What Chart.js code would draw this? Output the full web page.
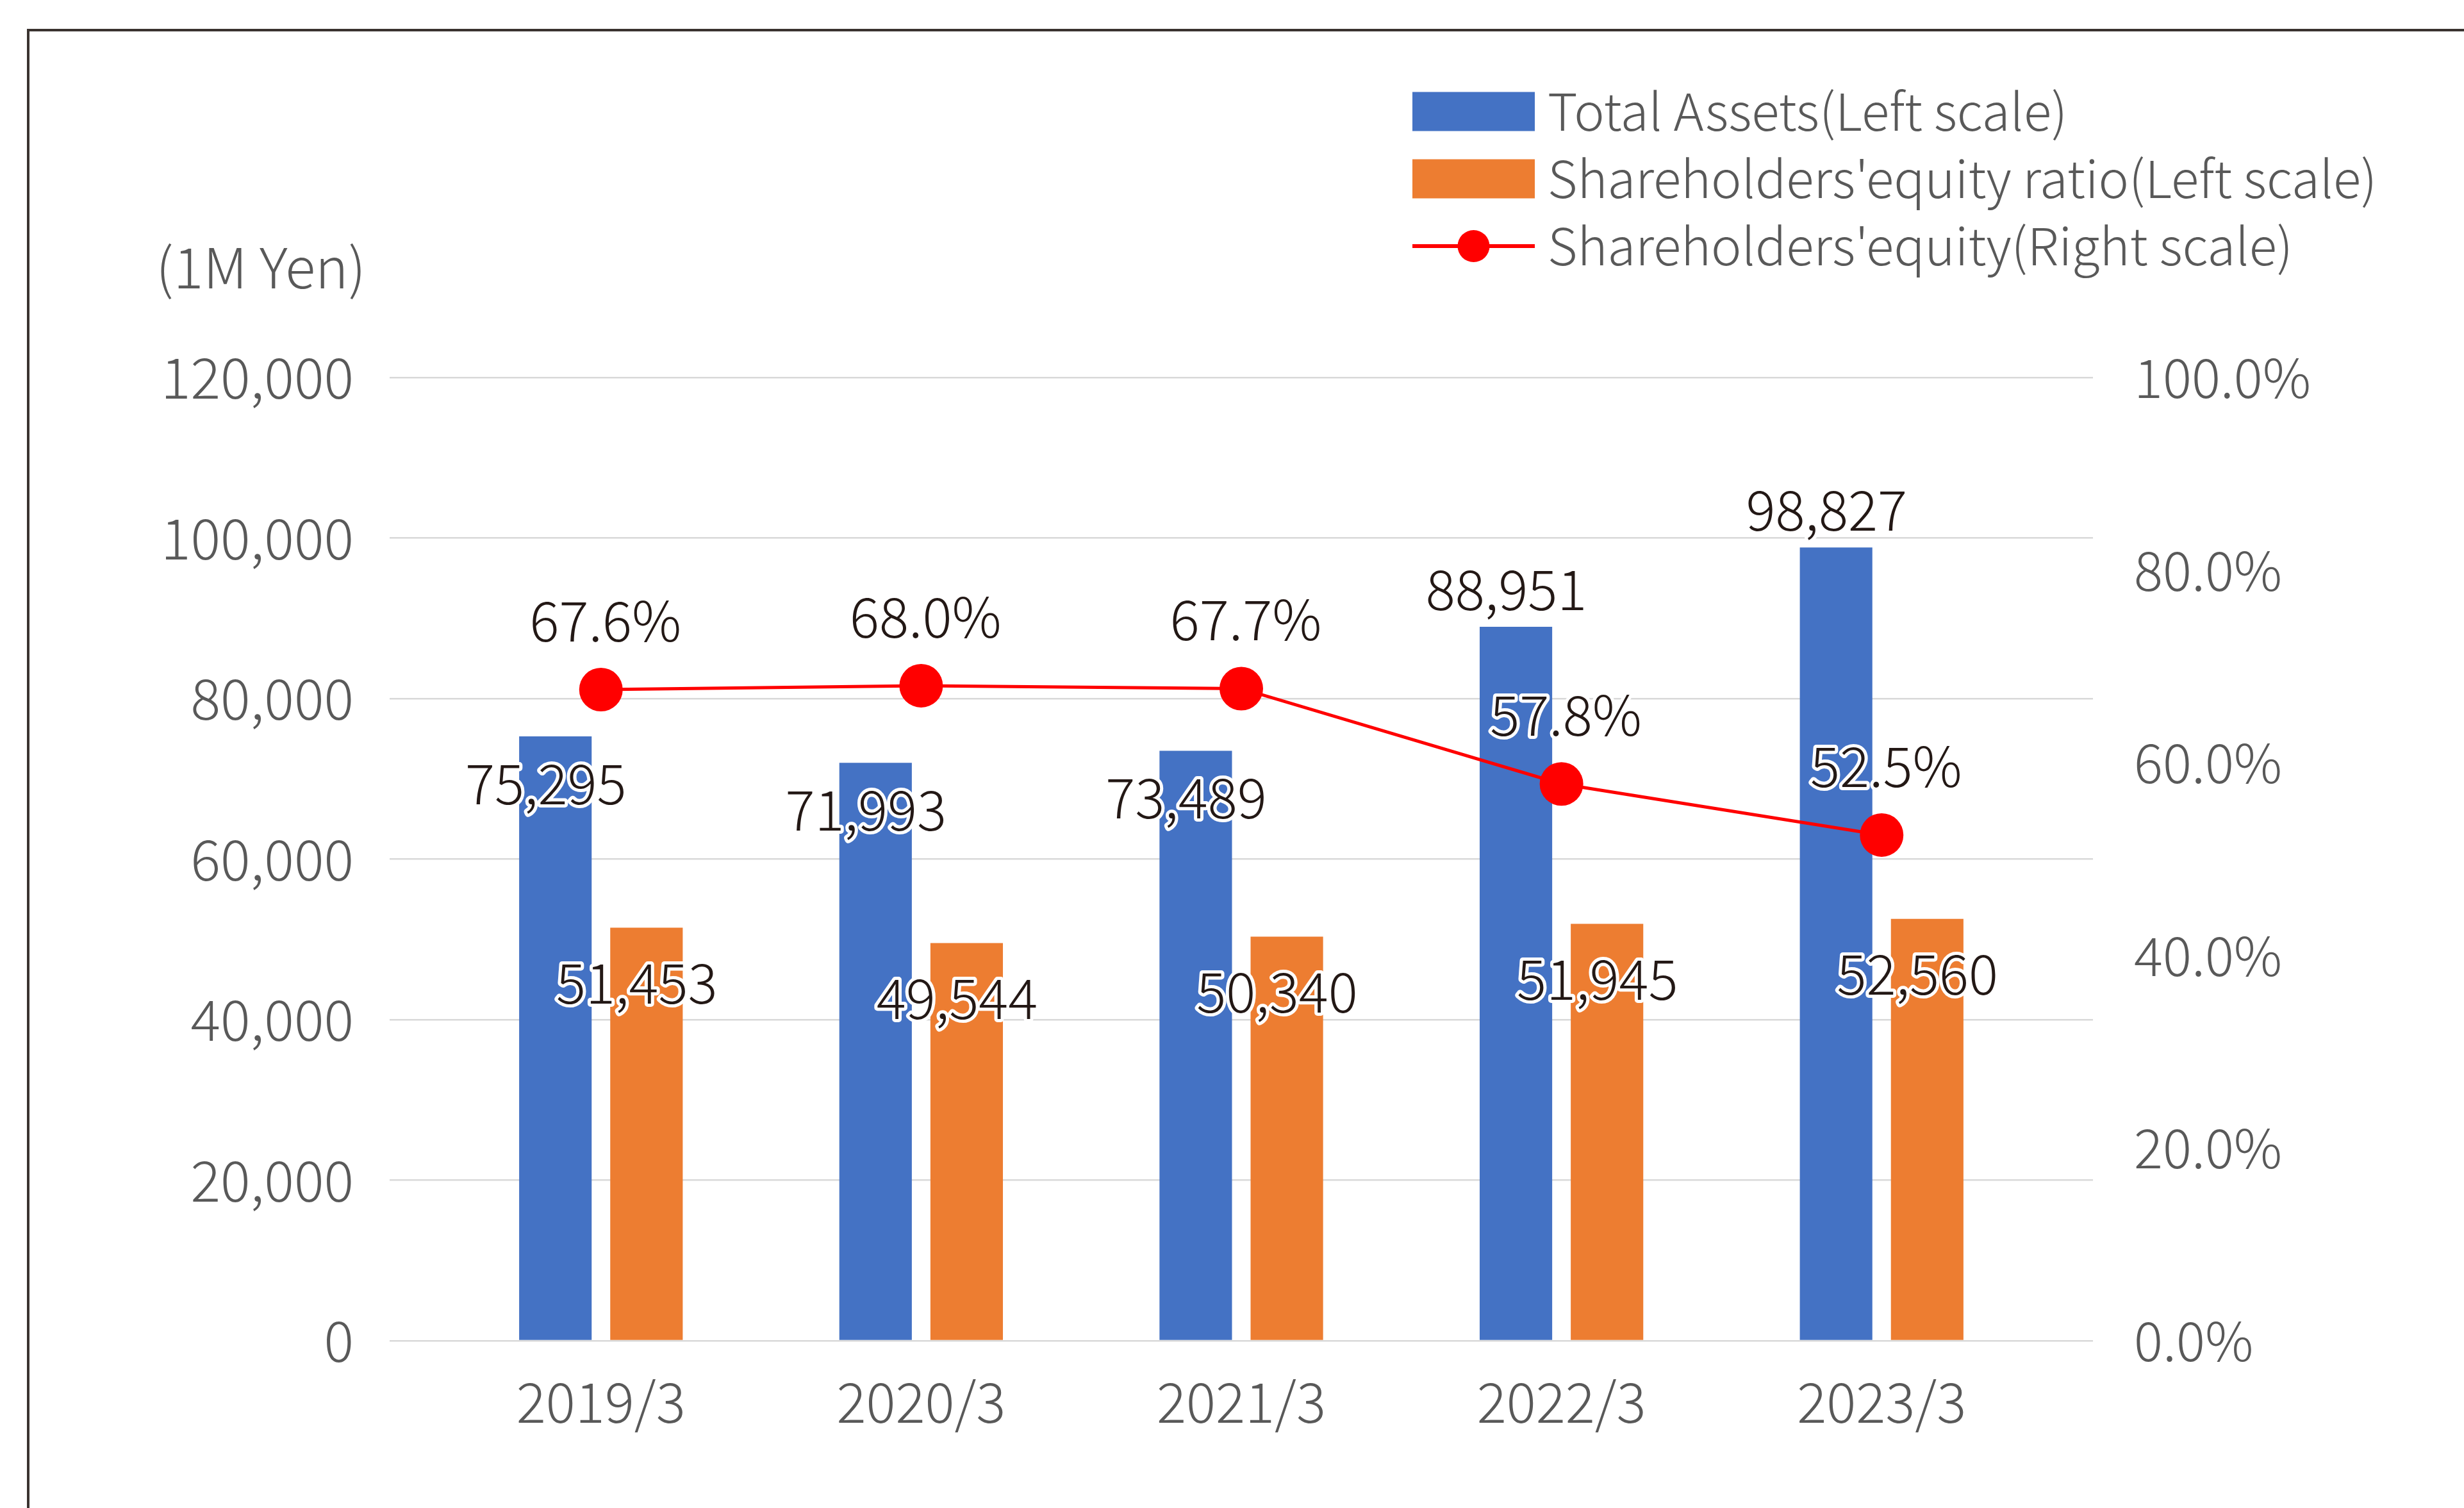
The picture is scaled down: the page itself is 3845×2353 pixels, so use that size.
<!DOCTYPE html>
<html>
<head>
<meta charset="utf-8">
<script src="https://cdn.jsdelivr.net/npm/chart.js@4.4.1/dist/chart.umd.min.js"></script>
<style>
  html, body { margin: 0; padding: 0; background: #fff; }
  #wrap { width: 3845px; height: 2353px; position: relative; }
</style>
</head>
<body>
<div id="wrap"><canvas id="myChart"></canvas></div>
<script>
    const categories = ['2019/3', '2020/3', '2021/3', '2022/3', '2023/3'];
    const totalAssets = [75295, 71993, 73489, 88951, 98827];
    const equity = [51453, 49544, 50340, 51945, 52560];
    const equityRatio = [67.6, 68.0, 67.7, 57.8, 52.5];
    const seriesNames = ['Total Assets(Left scale)', "Shareholders'equity ratio(Left scale)", "Shareholders'equity(Right scale)"];
    const leftTicks = [0, 20000, 40000, 60000, 80000, 100000, 120000];
    const rightTicks = [0, 20, 40, 60, 80, 100];
    const unitLabel = '(1M Yen)';
    // where the total assets label sits: inside the bar top or above it
    const assetLabelSide = ['in', 'in', 'in', 'out', 'out'];

    const FONT = "'Noto Sans CJK JP', 'Noto Sans', sans-serif";
    const BLUE = '#4472C4', ORANGE = '#ED7D31', RED = '#FF0000';
    const GREY_TEXT = '#595959', DARK_TEXT = '#231815';

    Chart.defaults.font.family = FONT;
    Chart.defaults.font.weight = 300;

    const toPts = arr => arr.map((v, i) => ({ x: i, y: v }));

    // value labels with a white halo
    const valueLabels = {
        id: 'valueLabels',
        afterDatasetsDraw(chart) {
            const ctx = chart.ctx;
            ctx.save();
            ctx.font = '300 86px ' + FONT;
            ctx.textAlign = 'center';
            ctx.textBaseline = 'middle';
            ctx.lineJoin = 'round';
            ctx.lineWidth = 10;
            ctx.strokeStyle = '#fff';
            ctx.fillStyle = DARK_TEXT;
            const put = (t, x, y) => { ctx.strokeText(t, x, y); ctx.fillText(t, x, y); };

            const line = chart.getDatasetMeta(0);
            const blue = chart.getDatasetMeta(1);
            const orange = chart.getDatasetMeta(2);
            blue.data.forEach((bar, i) => {
                const dy = assetLabelSide[i] === 'in' ? 73 : -59;
                put(totalAssets[i].toLocaleString('en-US'), bar.x - 15, bar.y + dy);
            });
            orange.data.forEach((bar, i) => {
                put(equity[i].toLocaleString('en-US'), bar.x - 15, bar.y + 86);
            });
            line.data.forEach((pt, i) => {
                put(equityRatio[i].toFixed(1) + '%', pt.x + 7, pt.y - 108);
            });
            ctx.restore();
        }
    };

    // frame, unit label and legend
    const decorations = {
        id: 'decorations',
        beforeDraw(chart) {
            const ctx = chart.ctx;
            ctx.save();
            ctx.strokeStyle = '#3a3330';
            ctx.lineWidth = 4;
            ctx.beginPath();
            ctx.moveTo(44, chart.height + 10);
            ctx.lineTo(44, 47);
            ctx.lineTo(chart.width + 10, 47);
            ctx.stroke();
            ctx.restore();
        },
        afterDraw(chart) {
            const ctx = chart.ctx;
            const y = chart.scales.y;
            ctx.save();
            ctx.font = '300 87px ' + FONT;
            ctx.fillStyle = GREY_TEXT;
            ctx.textBaseline = 'middle';
            ctx.textAlign = 'right';
            ctx.fillText(unitLabel, y.right - 37, chart.chartArea.top - 172);

            const lx = 2204, bw = 191, bh = 61, rowH = 105, top = 174;
            const colors = [BLUE, ORANGE];
            ctx.font = '300 80px ' + FONT;
            ctx.textAlign = 'left';
            seriesNames.forEach((name, i) => {
                const cy = top + i * rowH;
                if (i < 2) {
                    ctx.fillStyle = colors[i];
                    ctx.fillRect(lx, cy - bh / 2, bw, bh);
                } else {
                    ctx.strokeStyle = RED;
                    ctx.lineWidth = 6;
                    ctx.beginPath();
                    ctx.moveTo(lx, cy);
                    ctx.lineTo(lx + bw, cy);
                    ctx.stroke();
                    ctx.fillStyle = RED;
                    ctx.beginPath();
                    ctx.arc(lx + bw / 2, cy, 25, 0, Math.PI * 2);
                    ctx.fill();
                }
                ctx.fillStyle = GREY_TEXT;
                ctx.fillText(name, lx + bw + 20, cy);
            });
            ctx.restore();
        }
    };

    new Chart('myChart', {
        type: 'bar',
        data: {
            datasets: [{
                type: 'line',
                label: seriesNames[2],
                data: toPts(equityRatio),
                yAxisID: 'y1',
                borderColor: RED,
                backgroundColor: RED,
                borderWidth: 5,
                pointRadius: 34,
                pointHoverRadius: 34,
                pointBorderWidth: 0,
                pointBackgroundColor: RED,
                tension: 0,
                order: 0
            }, {
                label: seriesNames[0],
                data: toPts(totalAssets),
                backgroundColor: BLUE,
                yAxisID: 'y',
                categoryPercentage: 0.569,
                barPercentage: 0.796,
                order: 1
            }, {
                label: seriesNames[1],
                data: toPts(equity),
                backgroundColor: ORANGE,
                yAxisID: 'y',
                categoryPercentage: 0.569,
                barPercentage: 0.796,
                order: 2
            }]
        },
        options: {
            responsive: true,
            maintainAspectRatio: false,
            animation: false,
            layout: { padding: { top: 589, left: 0, right: 0, bottom: 0 } },
            plugins: {
                legend: { display: false },
                tooltip: { enabled: false }
            },
            scales: {
                x: {
                    type: 'linear',
                    offset: false,
                    min: -0.66,
                    max: 4.66,
                    grid: { display: false },
                    border: { display: false },
                    afterBuildTicks: s => { s.ticks = categories.map((c, i) => ({ value: i })); },
                    afterFit: s => { s.height = 261; },
                    ticks: {
                        autoSkip: false,
                        maxRotation: 0,
                        padding: 36,
                        color: GREY_TEXT,
                        font: { size: 86, weight: 300 },
                        callback: v => categories[v]
                    }
                },
                y: {
                    position: 'left',
                    min: 0,
                    max: 120000,
                    afterBuildTicks: s => { s.ticks = leftTicks.map(v => ({ value: v })); },
                    afterFit: s => { s.width = 608; },
                    grid: { color: '#d9d9d9', lineWidth: 2.5, drawTicks: false },
                    border: { display: false },
                    ticks: {
                        padding: 56,
                        color: GREY_TEXT,
                        font: { size: 87, weight: 300 },
                        callback: v => v.toLocaleString('en-US')
                    }
                },
                y1: {
                    position: 'right',
                    min: 0,
                    max: 100,
                    afterBuildTicks: s => { s.ticks = rightTicks.map(v => ({ value: v })); },
                    afterFit: s => { s.width = 579; },
                    grid: { display: false, drawTicks: false },
                    border: { display: false },
                    ticks: {
                        padding: 64,
                        color: GREY_TEXT,
                        font: { size: 84, weight: 300 },
                        callback: v => v.toFixed(1) + '%'
                    }
                }
            }
        },
        plugins: [valueLabels, decorations]
    });
</script>
</body>
</html>
